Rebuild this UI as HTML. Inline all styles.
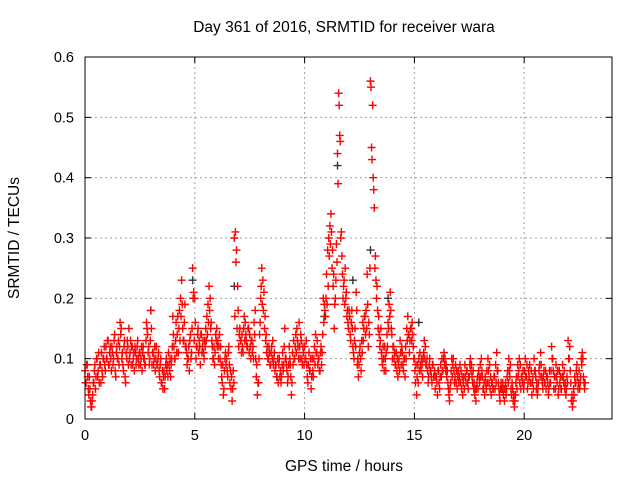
<!DOCTYPE html>
<html><head><meta charset="utf-8"><style>
body{margin:0;background:#fff}
svg{display:block;font-family:"Liberation Sans",sans-serif}
</style></head><body>
<svg id="chart" width="640" height="480" viewBox="0 0 640 480">
<rect width="640" height="480" fill="#fff"/>
<text x="344" y="32" text-anchor="middle" font-size="15.5" fill="#000">Day 361 of 2016, SRMTID for receiver wara</text>
<text transform="translate(19,238) rotate(-90)" text-anchor="middle" font-size="15.5" fill="#000">SRMTID / TECUs</text>
<text x="344" y="471" text-anchor="middle" font-size="15.5" fill="#000">GPS time / hours</text>
<g id="grid"></g>
<g id="ticks"></g>
<g id="marks"></g>
<rect x="85" y="57" width="527" height="362" fill="none" stroke="#000" stroke-width="1"/>
</svg>
<script>
const xTicks=[0,5,10,15,20];
const yTicks=[0,0.1,0.2,0.3,0.4,0.5,0.6];
const yTickLabels=["0","0.1","0.2","0.3","0.4","0.5","0.6"];
const tStart=0, tStep=0.05;
const values=[
0.08,0.06,0.09,0.05,0.07,0.03,0.02,0.04,0.06,0.09,0.07,0.1,0.08,0.06,0.09,0.11,0.07,0.1,0.09,0.12,
0.1,0.13,0.09,0.12,0.08,0.11,0.1,0.14,0.07,0.12,0.1,0.09,0.16,0.15,0.11,0.08,0.13,0.06,0.1,0.12,
0.15,0.11,0.09,0.12,0.1,0.08,0.11,0.1,0.13,0.09,0.11,0.1,0.08,0.12,0.1,0.09,0.16,0.14,0.12,0.1,
0.18,0.09,0.11,0.1,0.08,0.12,0.09,0.11,0.07,0.1,0.06,0.05,0.08,0.07,0.1,0.09,0.11,0.08,0.07,0.1,
0.17,0.12,0.1,0.16,0.14,0.11,0.18,0.2,0.23,0.15,0.13,0.19,0.12,0.09,0.1,0.08,0.14,0.11,0.25,0.21,
0.2,0.1,0.12,0.15,0.13,0.09,0.14,0.12,0.11,0.13,0.15,0.17,0.19,0.22,0.2,0.16,0.12,0.1,0.09,0.14,
0.15,0.13,0.12,0.1,0.09,0.06,0.04,0.08,0.11,0.1,0.07,0.12,0.06,0.05,0.03,0.08,0.3,0.31,0.28,0.22,
0.12,0.15,0.13,0.14,0.11,0.17,0.16,0.13,0.12,0.15,0.14,0.1,0.13,0.12,0.16,0.18,0.07,0.04,0.06,0.14,
0.2,0.25,0.23,0.21,0.17,0.14,0.12,0.1,0.11,0.09,0.12,0.13,0.1,0.08,0.09,0.07,0.06,0.1,0.08,0.07,
0.11,0.09,0.15,0.1,0.08,0.07,0.12,0.09,0.04,0.11,0.13,0.1,0.14,0.15,0.12,0.16,0.1,0.13,0.09,0.11,
0.12,0.1,0.09,0.06,0.11,0.08,0.05,0.1,0.07,0.12,0.14,0.11,0.09,0.1,0.08,0.12,0.11,0.2,0.19,0.17,
0.24,0.28,0.3,0.32,0.34,0.25,0.22,0.15,0.2,0.29,0.44,0.54,0.47,0.3,0.27,0.2,0.23,0.25,0.21,0.18,
0.15,0.17,0.13,0.18,0.12,0.1,0.15,0.21,0.09,0.07,0.11,0.1,0.13,0.16,0.15,0.17,0.18,0.24,0.12,0.14,
0.56,0.45,0.52,0.38,0.25,0.23,0.22,0.15,0.14,0.13,0.11,0.09,0.1,0.12,0.08,0.14,0.16,0.19,0.21,0.15,
0.1,0.12,0.11,0.09,0.08,0.07,0.1,0.13,0.09,0.11,0.08,0.1,0.12,0.15,0.17,0.14,0.13,0.15,0.16,0.12,
0.1,0.06,0.04,0.09,0.1,0.11,0.08,0.09,0.1,0.13,0.12,0.09,0.08,0.07,0.1,0.08,0.06,0.09,0.07,0.05,
0.07,0.04,0.08,0.05,0.09,0.1,0.08,0.11,0.1,0.09,0.08,0.05,0.03,0.06,0.1,0.09,0.08,0.07,0.06,0.05,
0.08,0.07,0.06,0.05,0.04,0.07,0.09,0.06,0.08,0.05,0.07,0.1,0.09,0.06,0.05,0.04,0.03,0.06,0.05,0.07,
0.09,0.1,0.07,0.05,0.04,0.06,0.08,0.1,0.06,0.05,0.04,0.06,0.05,0.07,0.09,0.11,0.08,0.05,0.03,0.06,
0.05,0.04,0.03,0.06,0.05,0.08,0.1,0.07,0.05,0.06,0.03,0.02,0.04,0.07,0.09,0.08,0.06,0.05,0.07,0.08,
0.06,0.1,0.07,0.05,0.08,0.09,0.06,0.04,0.07,0.1,0.08,0.05,0.04,0.06,0.09,0.11,0.07,0.05,0.08,0.06,
0.05,0.07,0.04,0.08,0.06,0.12,0.1,0.05,0.07,0.09,0.06,0.04,0.08,0.07,0.05,0.09,0.06,0.05,0.04,0.07,
0.13,0.1,0.08,0.03,0.02,0.05,0.07,0.06,0.09,0.05,0.08,0.06,0.1,0.11,0.07,0.05
];
const values2=[
0.06,0.09,0.07,0.04,0.05,0.02,0.03,0.06,0.08,0.05,0.1,0.07,0.11,0.09,0.06,0.08,0.1,0.12,0.08,0.1,
0.13,0.09,0.11,0.1,0.12,0.09,0.13,0.08,0.11,0.1,0.13,0.12,0.14,0.1,0.09,0.12,0.07,0.11,0.13,0.09,
0.1,0.13,0.12,0.09,0.11,0.12,0.09,0.12,0.1,0.11,0.09,0.12,0.11,0.1,0.09,0.13,0.15,0.11,0.09,0.13,
0.15,0.11,0.09,0.12,0.1,0.09,0.1,0.08,0.09,0.06,0.08,0.07,0.05,0.09,0.08,0.07,0.09,0.1,0.09,0.12,
0.14,0.1,0.13,0.11,0.17,0.15,0.13,0.17,0.19,0.13,0.16,0.12,0.11,0.1,0.12,0.13,0.1,0.15,0.2,0.13,
0.16,0.12,0.14,0.11,0.12,0.14,0.11,0.13,0.1,0.12,0.13,0.14,0.16,0.18,0.15,0.13,0.1,0.12,0.11,0.13,
0.12,0.1,0.14,0.12,0.07,0.09,0.05,0.1,0.09,0.08,0.11,0.09,0.08,0.07,0.05,0.06,0.17,0.26,0.15,0.18,
0.14,0.13,0.11,0.12,0.15,0.13,0.14,0.12,0.15,0.11,0.12,0.13,0.11,0.1,0.14,0.1,0.09,0.06,0.1,0.16,
0.22,0.19,0.18,0.15,0.13,0.11,0.1,0.12,0.09,0.11,0.1,0.09,0.11,0.09,0.07,0.1,0.09,0.07,0.06,0.09,
0.08,0.12,0.1,0.09,0.06,0.09,0.1,0.07,0.06,0.09,0.1,0.12,0.11,0.13,0.1,0.12,0.14,0.1,0.12,0.09,
0.1,0.13,0.07,0.09,0.08,0.1,0.07,0.08,0.1,0.09,0.11,0.13,0.1,0.08,0.11,0.09,0.14,0.16,0.18,0.2,
0.19,0.22,0.27,0.29,0.31,0.28,0.24,0.19,0.23,0.26,0.39,0.52,0.46,0.31,0.24,0.22,0.19,0.2,0.17,0.16,
0.18,0.14,0.16,0.15,0.11,0.13,0.12,0.18,0.1,0.09,0.12,0.08,0.11,0.13,0.17,0.14,0.15,0.19,0.16,0.25,
0.55,0.43,0.4,0.35,0.27,0.2,0.18,0.17,0.12,0.15,0.1,0.12,0.08,0.1,0.11,0.12,0.15,0.17,0.18,0.14,
0.12,0.1,0.09,0.11,0.1,0.09,0.08,0.11,0.12,0.09,0.1,0.07,0.1,0.13,0.14,0.11,0.15,0.13,0.14,0.1,
0.08,0.09,0.07,0.06,0.08,0.09,0.1,0.07,0.11,0.1,0.09,0.1,0.06,0.09,0.08,0.07,0.09,0.07,0.08,0.07,
0.06,0.08,0.06,0.07,0.07,0.08,0.1,0.09,0.08,0.07,0.06,0.04,0.05,0.08,0.07,0.1,0.06,0.09,0.08,0.07,
0.06,0.09,0.08,0.07,0.06,0.05,0.07,0.08,0.06,0.07,0.09,0.08,0.07,0.08,0.06,0.05,0.05,0.07,0.08,0.06,
0.07,0.08,0.05,0.06,0.07,0.05,0.06,0.08,0.09,0.07,0.06,0.05,0.07,0.05,0.06,0.08,0.06,0.04,0.05,0.05,
0.06,0.05,0.05,0.04,0.07,0.06,0.08,0.09,0.04,0.05,0.04,0.03,0.06,0.05,0.07,0.1,0.09,0.07,0.06,0.05,
0.08,0.07,0.09,0.06,0.07,0.06,0.08,0.06,0.05,0.08,0.07,0.06,0.05,0.08,0.07,0.09,0.06,0.07,0.06,0.08,
0.07,0.06,0.05,0.06,0.08,0.1,0.08,0.07,0.05,0.07,0.08,0.05,0.06,0.05,0.07,0.07,0.08,0.06,0.05,0.06,
0.1,0.12,0.06,0.04,0.03,0.04,0.06,0.08,0.07,0.06,0.05,0.07,0.09,0.1,0.06,0.06
];
const blackTimes=[3.0,4.9,6.8,10.9,11.5,12.2,13.0,13.8,15.2];
const blackValues=[0.18,0.23,0.22,0.17,0.42,0.23,0.28,0.2,0.16];

const X0=85,X1=612,Y0=419,Y1=57,XMAX=24,YMAX=0.6;
const xs=t=>X0+(t/XMAX)*(X1-X0);
const ys=v=>Y0-(v/YMAX)*(Y0-Y1);
const NS="http://www.w3.org/2000/svg";
function mk(tag,attrs,parent){const e=document.createElementNS(NS,tag);for(const k in attrs)e.setAttribute(k,attrs[k]);parent.appendChild(e);return e;}
const grid=document.getElementById('grid'),ticks=document.getElementById('ticks'),marks=document.getElementById('marks');
xTicks.forEach(t=>{
  const x=xs(t);
  if(t>0){const g=mk('line',{x1:x,x2:x,y1:Y1,y2:Y0,stroke:'#a0a0a0','stroke-dasharray':'2,3'},grid);
  
  }
  mk('line',{x1:x,x2:x,y1:Y0,y2:Y0-6,stroke:'#000'},ticks);
  mk('line',{x1:x,x2:x,y1:Y1,y2:Y1+6,stroke:'#000'},ticks);
  const l=mk('text',{x:x,y:Y0+21,'text-anchor':'middle','font-size':'14.5'},ticks);
  l.textContent=String(t);
  
  
});
yTicks.forEach((v,i)=>{
  const y=ys(v);
  if(v>0&&v<YMAX){const g=mk('line',{x1:X0,x2:X1,y1:y,y2:y,stroke:'#a0a0a0','stroke-dasharray':'2,3'},grid);
  
  }
  mk('line',{x1:X0,x2:X0+6,y1:y,y2:y,stroke:'#000'},ticks);
  mk('line',{x1:X1,x2:X1-6,y1:y,y2:y,stroke:'#000'},ticks);
  const l=mk('text',{x:X0-11,y:y+5,'text-anchor':'end','font-size':'14.5'},ticks);
  l.textContent=yTickLabels[i];
  
  
});
function plus(x,y,color,name){
  const p=mk('path',{d:`M${x-4},${y}h8M${x},${y-4}v8`,stroke:color,'stroke-width':'1.4',fill:'none'},marks);
  
  
}
blackTimes.forEach((t,i)=>plus(xs(t),ys(blackValues[i]),'#333','black-point'));
values2.forEach((v,i)=>plus(xs(tStart+tStep/2+i*tStep),ys(v),'#ff0000','srmtid-point'));
values.forEach((v,i)=>plus(xs(tStart+i*tStep),ys(v),'#ff0000','srmtid-point'));
</script>
</body></html>
